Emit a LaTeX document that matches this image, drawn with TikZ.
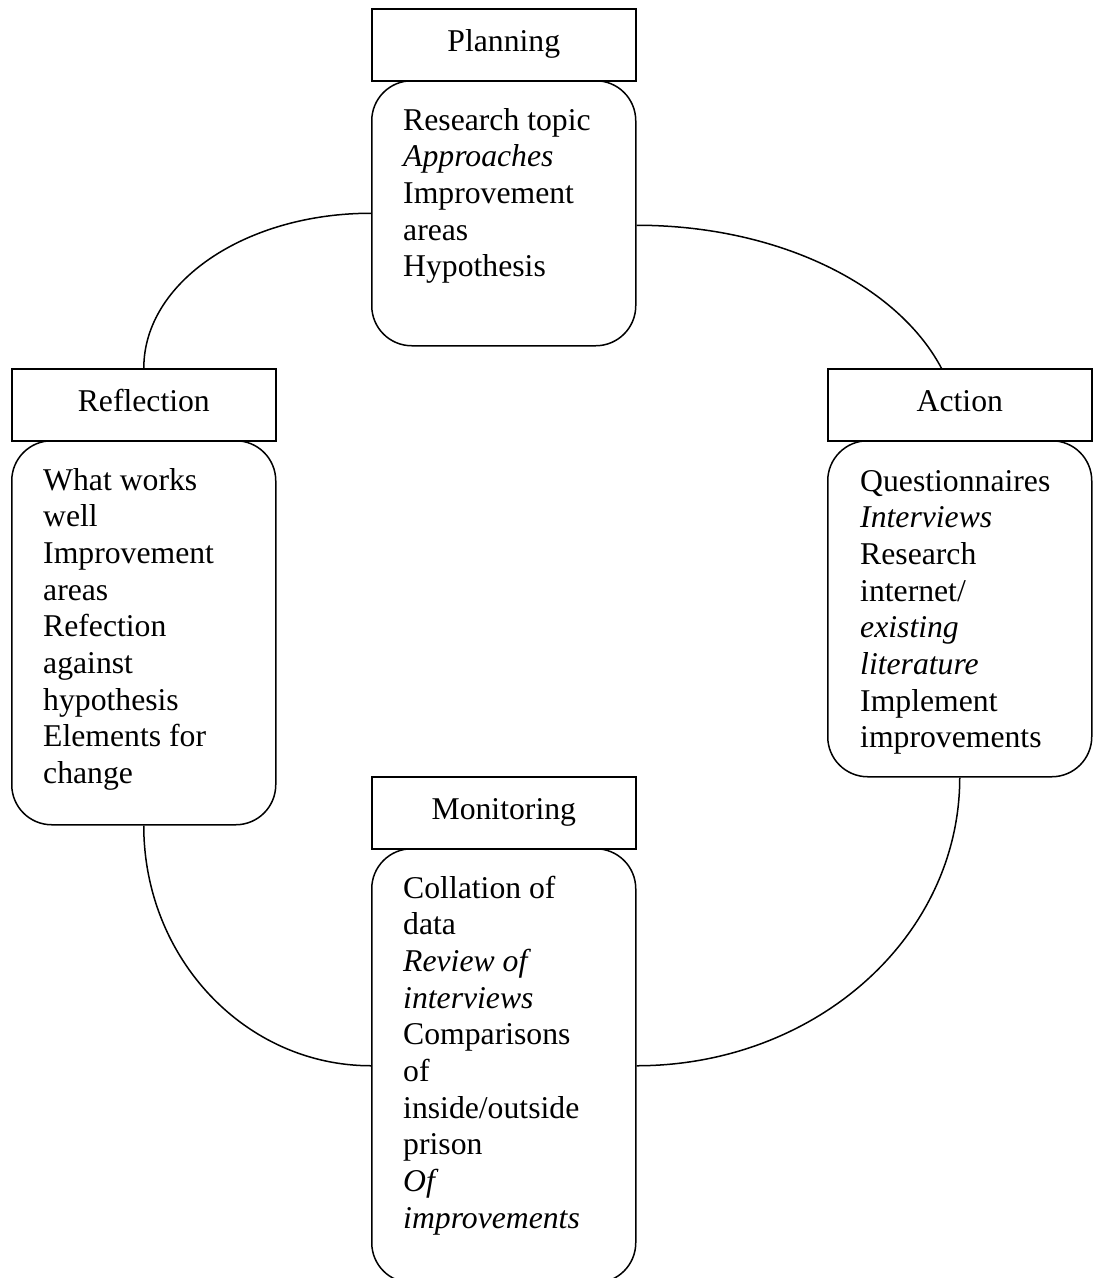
\documentclass[tikz,border=0pt]{standalone}
\usepackage{fontspec}
\setmainfont{Liberation Serif}
\usetikzlibrary{backgrounds}
\newcommand{\mybodyfont}{\fontsize{31.7pt}{36.7pt}\selectfont}
\newcommand{\btxt}[1]{\parbox[t]{250pt}{\mybodyfont\raggedright #1}}
\begin{document}
\begin{tikzpicture}[x=1pt,y=-1pt,
  head/.style={draw, line width=1.6pt, rectangle, minimum width=264pt, minimum height=72pt,
    inner sep=0pt, anchor=north west, text height=21pt, text depth=7pt, fill=white, font=\mybodyfont},
  body/.style={draw, line width=1.5pt, rectangle, rounded corners=40pt, minimum width=264pt,
    inner sep=0pt, anchor=north west, fill=white},
  btext/.style={anchor=base west, inner sep=0pt},
  link/.style={line width=1.5pt}]
\useasboundingbox (0,0) rectangle (1096,1278);
\clip (0,0) rectangle (1096,1278);

% Planning
\node[body, minimum height=265pt] (plbody) at (371,80) {};
\node[head] (plhead) at (371,8) {Planning};
\node[btext] (pltext) at (403,130) {\btxt{Research topic\\\textit{Approaches}\\Improvement\\areas\\Hypothesis}};

% Reflection
\node[body, minimum height=384pt] (refbody) at (11,440) {};
\node[head] (refhead) at (11,368) {Reflection};
\node[btext] (reftext) at (43,490) {\btxt{What works\\well\\Improvement\\areas\\Refection\\against\\hypothesis\\Elements for\\change}};

% Action
\node[body, minimum height=336pt] (actbody) at (827,440) {};
\node[head] (acthead) at (827,368) {Action};
\node[btext] (acttext) at (860,491) {\btxt{Questionnaires\\\textit{Interviews}\\Research\\internet/\\\textit{existing}\\\textit{literature}\\Implement\\improvements}};

% Monitoring
\node[body, minimum height=434pt] (monbody) at (371,848) {};
\node[head] (monhead) at (371,776) {Monitoring};
\node[btext] (montext) at (403,898) {\btxt{Collation of\\data\\\textit{Review of}\\\textit{interviews}\\Comparisons\\of\\inside/outside\\prison\\\textit{Of}\\\textit{improvements}}};

\begin{scope}[on background layer]
\draw[link] (plbody.west) .. controls +(-125.6,0) and +(0,-85.9) .. (refhead.north);
\draw[link] ([yshift=-12pt]plbody.east) .. controls +(179,0) and +(0,-119.3) .. (actbody.north);
\draw[link] (actbody.south) .. controls +(0,159.6) and +(179,0) .. (monbody.east);
\draw[link] (refbody.south) .. controls +(0,133) and +(-125.6,0) .. (monbody.west);
\end{scope}
\end{tikzpicture}
\end{document}
